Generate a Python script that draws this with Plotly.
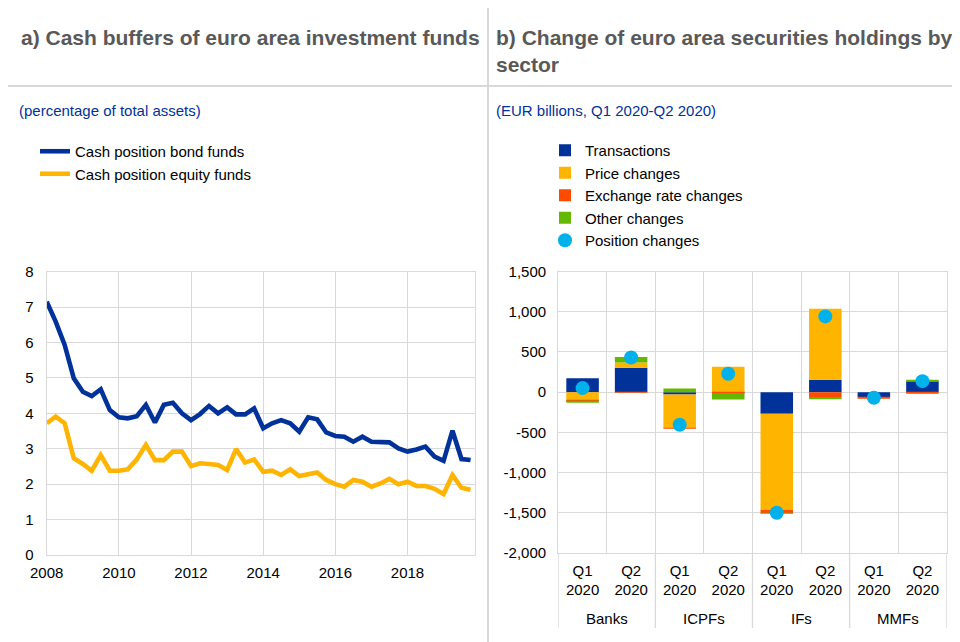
import plotly.graph_objects as go
import pandas as pd

# page has an 8px body margin: figure is drawn 952x634 so it fills the 960x642 window
OFF = 8
W, H = 960 - OFF, 642 - OFF

# ---------------- data: panel a ----------------
quarters_a = pd.date_range("2008-01-01", periods=48, freq="QS")
bond_funds = [7.15, 6.59, 5.93, 4.99, 4.61, 4.49, 4.68, 4.09, 3.89, 3.86, 3.92, 4.24,
              3.74, 4.24, 4.30, 4.00, 3.81, 3.98, 4.21, 4.00, 4.17, 3.97, 3.97, 4.14,
              3.58, 3.72, 3.81, 3.72, 3.48, 3.89, 3.83, 3.46, 3.36, 3.34, 3.20, 3.34,
              3.20, 3.18, 3.18, 3.01, 2.92, 2.98, 3.06, 2.78, 2.66, 3.51, 2.71, 2.68]
equity_funds = [3.72, 3.91, 3.72, 2.73, 2.57, 2.38, 2.82, 2.38, 2.38, 2.42, 2.70, 3.11,
                2.68, 2.68, 2.92, 2.92, 2.51, 2.59, 2.57, 2.54, 2.40, 2.99, 2.61, 2.70,
                2.35, 2.38, 2.26, 2.42, 2.23, 2.28, 2.33, 2.12, 2.00, 1.93, 2.12, 2.07,
                1.93, 2.02, 2.15, 2.00, 2.07, 1.95, 1.95, 1.87, 1.72, 2.26, 1.90, 1.84]

# ---------------- data: panel b ----------------
sectors = ["Banks", "Banks", "ICPFs", "ICPFs", "IFs", "IFs", "MMFs", "MMFs"]
periods = ["Q1<br>2020", "Q2<br>2020"] * 4
transactions = [174, 303, -30, -5, -270, 154, -60, 137]
price_changes = [-104, 66, -418, 315, -1196, 884, 0, 0]
exchange_rate_changes = [-5, -5, -5, -5, -42, -60, -10, -8]
other_changes = [-20, 70, 45, -83, -5, -30, 0, 8]
position_changes = [50, 432, -407, 228, -1503, 943, -70, 137]
b_tickvals = [1500, 1000, 500, 0, -500, -1000, -1500, -2000]
b_ticktext = ["1,500", "1,000", "500", "0", "-500", "-1,000", "-1,500", "-2,000"]

BLUE = "#003299"
YELLOW = "#FFB400"
ORANGE = "#FF4B00"
GREEN = "#65B800"
LIGHTBLUE = "#00B1EA"
GRID = "#d9d9d9"
FONT = "Liberation Sans, Arial, sans-serif"


def fx(x):
    return (x - OFF) / W


def fy(y):
    return 1 - (y - OFF) / H


# category positions on the bar axis
xpos = list(range(len(sectors)))
groups = []
for i, s in enumerate(sectors):
    if not groups or groups[-1][0] != s:
        groups.append([s, i, i])
    else:
        groups[-1][2] = i

fig = go.Figure()

fig.add_trace(go.Scatter(x=quarters_a, y=bond_funds, mode="lines", name="Cash position bond funds",
                         line=dict(color=BLUE, width=4.6), xaxis="x", yaxis="y", legend="legend"))
fig.add_trace(go.Scatter(x=quarters_a, y=equity_funds, mode="lines", name="Cash position equity funds",
                         line=dict(color=YELLOW, width=4.6), xaxis="x", yaxis="y", legend="legend"))

for name, vals, col in [("Transactions", transactions, BLUE),
                        ("Price changes", price_changes, YELLOW),
                        ("Exchange rate changes", exchange_rate_changes, ORANGE),
                        ("Other changes", other_changes, GREEN)]:
    fig.add_trace(go.Bar(x=xpos, y=vals, name=name, marker=dict(color=col, line=dict(width=0)),
                         width=0.67, xaxis="x2", yaxis="y2", legend="legend2"))
fig.add_trace(go.Scatter(x=xpos, y=position_changes, mode="markers", name="Position changes",
                         marker=dict(color=LIGHTBLUE, size=14), xaxis="x2", yaxis="y2", legend="legend2"))

tickfont = dict(family=FONT, size=15, color="#000000")
Y_BOT_B = 552.7

fig.update_layout(
    template="none",
    width=W, height=H,
    autosize=False,
    margin=dict(l=0, r=0, t=0, b=0, pad=0, autoexpand=False),
    paper_bgcolor="white", plot_bgcolor="white",
    font=dict(family=FONT, size=15, color="#000000"),
    barmode="relative",
    xaxis=dict(domain=[fx(46.7), fx(475)], type="date",
               range=["2008-01-01", "2019-11-15"],
               tick0="2008-01-01", dtick="M24", tickformat="%Y",
               showgrid=True, gridcolor=GRID, gridwidth=1.3,
               showline=True, linecolor=GRID, linewidth=1.3, mirror=True,
               ticks="", ticklabelstandoff=4, tickfont=tickfont, zeroline=False,
               anchor="y", automargin=False),
    yaxis=dict(domain=[fy(555), fy(271.7)], range=[0, 8], dtick=1,
               showgrid=True, gridcolor=GRID, gridwidth=1.3,
               showline=True, linecolor=GRID, linewidth=1.3, mirror=True,
               ticks="", ticklabelstandoff=9, tickfont=tickfont, zeroline=False,
               anchor="x", automargin=False),
    xaxis2=dict(domain=[fx(558.3), fx(946.7)], type="linear", range=[-0.5, len(sectors) - 0.5],
                tickvals=xpos, ticktext=periods,
                showgrid=False,
                minor=dict(tickvals=[i + 0.5 for i in xpos[:-1]], showgrid=True,
                           gridcolor=GRID, gridwidth=1.3, ticks=""),
                showline=True, linecolor=GRID, linewidth=1.3, mirror=True,
                ticks="", ticklabelstandoff=4, tickfont=tickfont, zeroline=False,
                anchor="y2", automargin=False),
    yaxis2=dict(domain=[fy(Y_BOT_B), fy(271.7)], range=[-2000, 1500],
                tickvals=b_tickvals, ticktext=b_ticktext,
                showgrid=True, gridcolor=GRID, gridwidth=1.3,
                showline=True, linecolor=GRID, linewidth=1.3, mirror=True,
                ticks="", ticklabelstandoff=8, tickfont=tickfont, zeroline=False,
                anchor="x2", automargin=False),
    legend=dict(x=fx(35), y=fy(135), xanchor="left", yanchor="top",
                bgcolor="rgba(0,0,0,0)", borderwidth=0,
                font=dict(family=FONT, size=15, color="#000000")),
    legend2=dict(x=fx(545), y=fy(134), xanchor="left", yanchor="top", traceorder="normal",
                 bgcolor="rgba(0,0,0,0)", borderwidth=0,
                 font=dict(family=FONT, size=15, color="#000000")),
    showlegend=True,
)

annotations = [
    dict(text="<b>a) Cash buffers of euro area investment funds</b>", x=fx(19), y=fy(37),
         font=dict(family=FONT, size=21, color="#595959")),
    dict(text="<b>b) Change of euro area securities holdings by<br>sector</b>", x=fx(494), y=fy(24),
         yanchor="top", font=dict(family=FONT, size=21, color="#595959")),
    dict(text="(percentage of total assets)", x=fx(17), y=fy(110),
         font=dict(family=FONT, size=15, color=BLUE)),
    dict(text="(EUR billions, Q1 2020-Q2 2020)", x=fx(494), y=fy(110),
         font=dict(family=FONT, size=15, color=BLUE)),
]
for a in annotations:
    a.setdefault("yanchor", "middle")
    a.update(xref="paper", yref="paper", xanchor="left", showarrow=False, align="left")

# sector group labels under the period labels
for name, i0, i1 in groups:
    annotations.append(dict(text=name, x=(i0 + i1) / 2, y=fy(618), xref="x2", yref="paper",
                            xanchor="center", yanchor="middle", showarrow=False,
                            font=dict(family=FONT, size=15, color="#000000")))
fig.update_layout(annotations=annotations)

shapes = [
    dict(type="line", xref="paper", yref="paper", x0=fx(488), x1=fx(488), y0=fy(8), y1=0,
         line=dict(color=GRID, width=2)),
    dict(type="line", xref="paper", yref="paper", x0=fx(7), x1=1, y0=fy(86), y1=fy(86),
         line=dict(color=GRID, width=2)),
]
# group dividers below the bar axis
bounds = [groups[0][1] - 0.5] + [g[2] + 0.5 for g in groups]
for b in bounds:
    shapes.append(dict(type="line", xref="x2", yref="paper", x0=b, x1=b,
                       y0=fy(Y_BOT_B), y1=fy(628), line=dict(color=GRID, width=1.3)))
fig.update_layout(shapes=shapes)

fig.write_html("out.html")
